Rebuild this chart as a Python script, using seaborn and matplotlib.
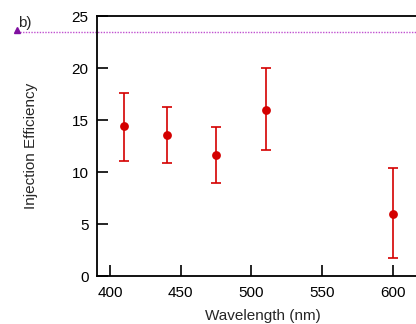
import matplotlib
matplotlib.use("Agg")
import matplotlib.pyplot as plt
import seaborn as sns
import pandas as pd

wavelength = [410, 440, 475, 510, 600]
efficiency = [14.4, 13.6, 11.6, 16.0, 6.0]
err_low = [3.3, 2.7, 2.65, 3.9, 4.3]
err_high = [3.2, 2.65, 2.75, 4.0, 4.35]
reference_level = 23.5
xticks = [400, 450, 500, 550, 600]
yticks = [0, 5, 10, 15, 20, 25]

sns.set_theme(style="white")
plt.rcParams['font.family'] = ['Liberation Sans', 'DejaVu Sans']

df = pd.DataFrame({"Wavelength (nm)": wavelength, "Injection Efficiency": efficiency})

fig = plt.figure(figsize=(4.16, 3.24), dpi=100)
ax = fig.add_axes([97/416, 48/324, 331/416, 260/324])
red = "#d40000"
ax.errorbar(wavelength, efficiency, yerr=[err_low, err_high], fmt="none",
            ecolor=red, elinewidth=1.2, capsize=3.5, capthick=1.2, zorder=2)
sns.scatterplot(data=df, x="Wavelength (nm)", y="Injection Efficiency", ax=ax,
                color=red, s=40, edgecolor=red, linewidth=0, zorder=3)

ax.set_xlim(390.8, 624.8)
ax.set_ylim(0, 25)
ax.set_xticks(xticks)
ax.set_yticks(yticks)
ax.tick_params(bottom=True, left=True, top=False, right=False)
ax.tick_params(direction="in", length=8, width=1.2, colors="black",
               labelsize=11, pad=6)
ax.tick_params(axis="x", pad=7)
for s in ["left", "bottom", "top"]:
    ax.spines[s].set_color("black")
    ax.spines[s].set_linewidth(1.3)
ax.spines["right"].set_visible(False)
ax.set_xlabel("Wavelength (nm)", fontsize=11, labelpad=7)
ax.set_ylabel("Injection Efficiency", fontsize=11, labelpad=24)

# dotted reference line from the marker to the right edge
ax.plot([-0.243, 1.0], [reference_level, reference_level], transform=ax.get_yaxis_transform(),
        color="#c050d0", linestyle=(0, (1, 1)), linewidth=1.0, clip_on=False, zorder=1)
ax.plot([-0.243], [reference_level + 0.2], transform=ax.get_yaxis_transform(), marker="^",
        color="#8010a0", markersize=5, clip_on=False, linestyle="none")
fig.text(18/416, 1 - 23/324, "b)", fontsize=11, va="center", ha="left")

fig.savefig("out.png", dpi=100)
